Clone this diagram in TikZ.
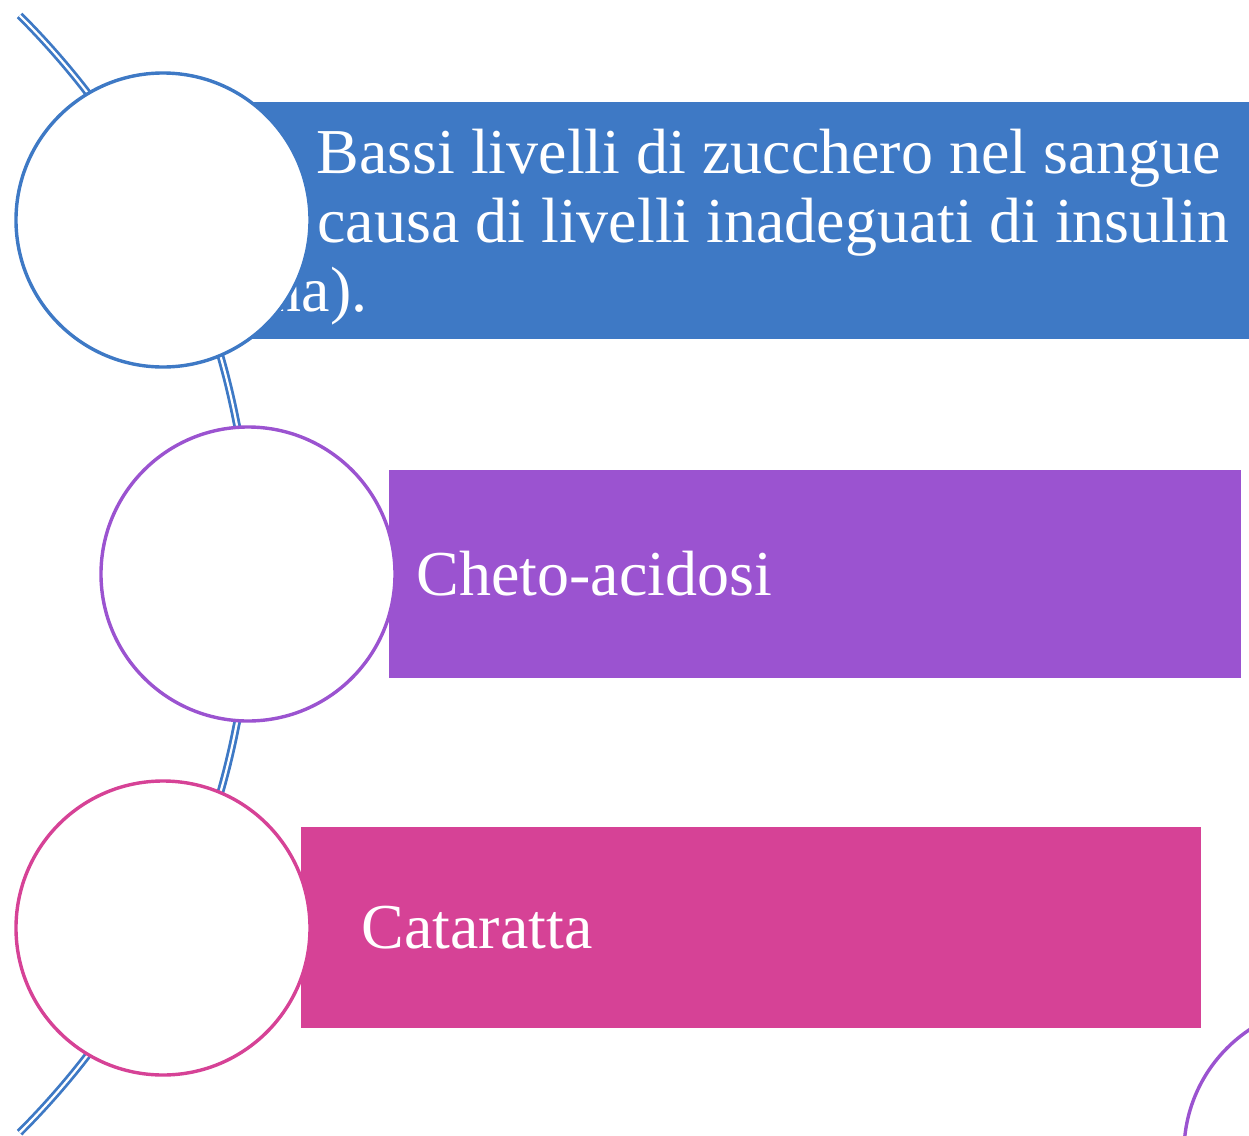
\documentclass[tikz,border=0pt]{standalone}
\usepackage{fontspec}
\setmainfont{Liberation Serif}
\usetikzlibrary{calc}

\begin{document}
\begin{tikzpicture}[x=0.5pt,y=-0.5pt]

% Colours of the three items
\definecolor{itemblue}{RGB}{62,121,197}
\definecolor{itempurple}{RGB}{155,83,208}
\definecolor{itempink}{RGB}{214,66,150}

\tikzset{
  itembox/.style={fill=#1, draw=none, inner sep=0pt, anchor=north west},
  itemtext/.style={text=white, inner sep=0pt, anchor=base west,
    font=\fontsize{32}{38}\selectfont},
  bubble/.style={circle, draw=#1, line width=1.7pt, fill=white,
    minimum size=147pt, inner sep=0pt},
  spine/.style={draw=itemblue, line width=1.4pt, double=white,
    double distance=1.1pt}
}

\useasboundingbox (0,0) rectangle (1249,1136);
\clip (0,0) rectangle (1249,1136);

% Coloured bars
\node[itembox=itemblue, minimum width=505pt, minimum height=118.5pt] (b1) at (245,102) {};
\node[itembox=itempurple, minimum width=426pt, minimum height=104pt] (b2) at (389,470) {};
\node[itembox=itempink, minimum width=450pt, minimum height=100.5pt] (b3) at (301,827) {};

% Texts of the bars
\node[itemtext] (t1a) at (316,173) {Bassi livelli di zucchero nel sangue};
\node[itemtext] (t1b) at (317,242) {causa di livelli inadeguati di insulin};
\node[itemtext, anchor=base east] (t1c) at (368,311) {na).};
\node[itemtext] (t2) at (416,595) {Cheto-acidosi};
\node[itemtext] (t3) at (361,948) {Cataratta};

% Curved spine behind the circles
\coordinate (spinetop) at (19.6,15.4);
\draw[spine] (spinetop) arc[start angle=-45, end angle=45, radius=790];

% Circles on the spine
\foreach \name/\x/\y/\col in {c1/163/220/itemblue, c2/248/574/itempurple,
    c3/163/928/itempink, c4/1331/1152/itempurple} {
  \node[bubble=\col] (\name) at (\x,\y) {};
}

\end{tikzpicture}
\end{document}
